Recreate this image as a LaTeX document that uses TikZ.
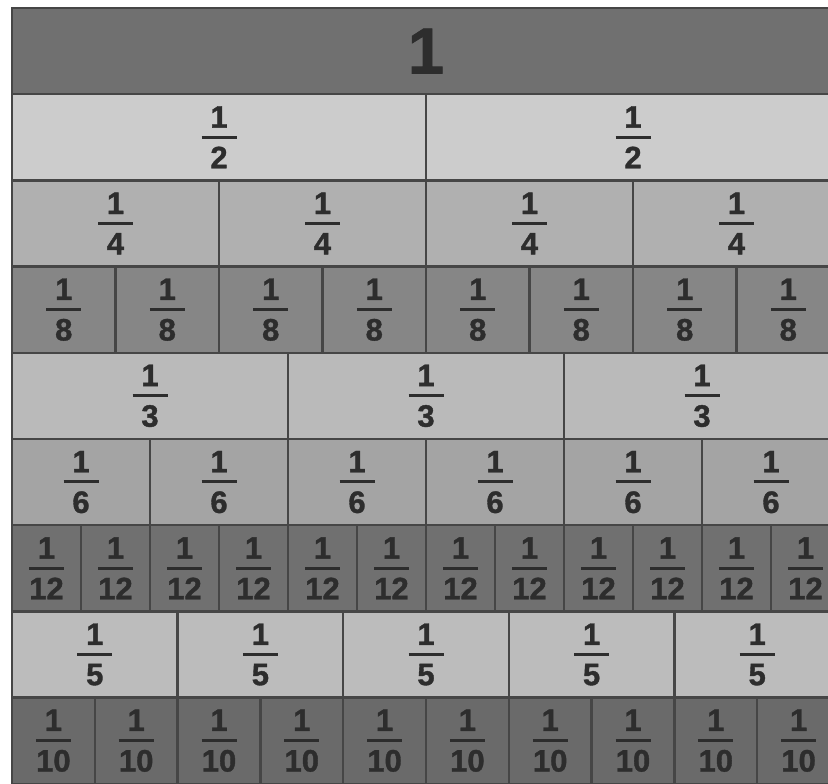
\documentclass[tikz,border=0pt]{standalone}
\usepackage{fontspec}
\setmainfont{Liberation Sans}[BoldFeatures={FakeBold=1.2}]
\definecolor{gOne}{RGB}{112,112,112}
\definecolor{gHalf}{RGB}{204,204,204}
\definecolor{gQuarter}{RGB}{176,176,176}
\definecolor{gEighth}{RGB}{134,134,134}
\definecolor{gThird}{RGB}{186,186,186}
\definecolor{gSixth}{RGB}{164,164,164}
\definecolor{gTwelfth}{RGB}{112,112,112}
\definecolor{gFifth}{RGB}{188,188,188}
\definecolor{gTenth}{RGB}{106,106,106}
\definecolor{linegray}{RGB}{70,70,70}
\definecolor{textgray}{RGB}{45,45,45}
\newcommand\fr[2]{\vbox{\offinterlineskip\halign{\hfil##\hfil\cr #1\cr\noalign{\kern8pt}\rule{35pt}{3pt}\cr\noalign{\kern8pt}#2\cr}}}
\tikzset{
  cell/.style={rectangle, draw=linegray, line width=2.4pt, inner sep=0pt,
    minimum height=86.2pt, text=textgray,
    font=\fontsize{31}{31}\selectfont\bfseries},
}
\begin{document}
\begin{tikzpicture}[x=1pt,y=-1pt]
\useasboundingbox (0,0) rectangle (828,784);
\clip (0,0) rectangle (828,784);
\node[cell, fill=gOne, minimum width=828pt,
  font=\fontsize{65}{65}\selectfont\bfseries] (whole) at (426,51.1) {1};
\foreach \n/\c [count=\r from 2] in {2/gHalf, 4/gQuarter, 8/gEighth, 3/gThird, 6/gSixth, 12/gTwelfth, 5/gFifth, 10/gTenth} {
  \pgfmathsetmacro\w{828/\n}
  \foreach \k in {1,...,\n} {
    \node[cell, fill=\c, minimum width=\w pt] (r\n-\k)
      at ({12+(\k-0.5)*\w}, {8+(\r-0.5)*86.2}) {\fr{1}{\n}};
  }
}
\end{tikzpicture}
\end{document}
